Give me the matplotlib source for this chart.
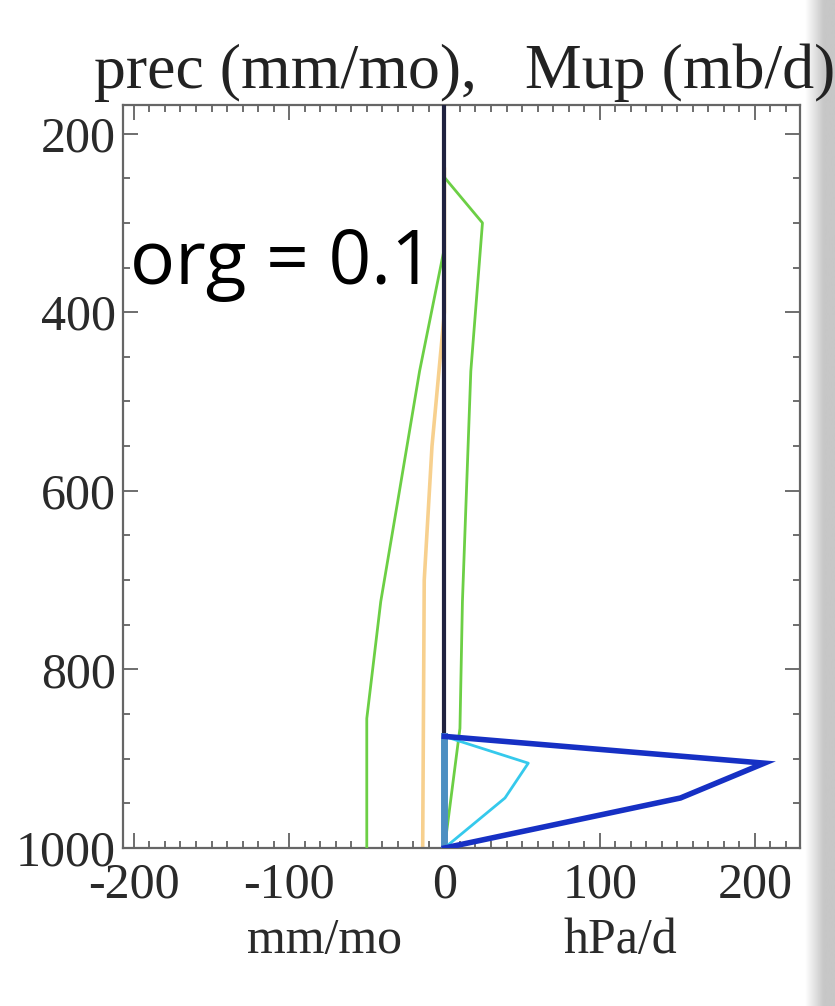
import numpy as np
import matplotlib
matplotlib.use("Agg")
import matplotlib.pyplot as plt
from matplotlib.ticker import MultipleLocator

# --- profiles (x value, pressure in hPa) ---
navy_x = [0, 0]
navy_p = [168, 875]

mup_p = [875, 905, 944, 1000]
mup_total = [0, 206, 152, 0]
mup_org = [0, 54, 39, 0]

base_x = [0, 0]
base_p = [875, 1000]

green_pos_x = [0, 24.5, 17, 11.6, 10, 0.6, 0]
green_pos_p = [249, 300, 466, 724, 866, 993, 1000]

green_neg_x = [0, -16, -30, -41, -50, -50]
green_neg_p = [328, 466, 611, 724, 855, 1000]

prec_x = [0, 0, -8, -13, -14]
prec_p = [240, 400, 550, 700, 1000]

xticks = [-200, -100, 0, 100, 200]
yticks = [200, 400, 600, 800, 1000]

W, H = 835, 1006
fig = plt.figure(figsize=(W / 100, H / 100), dpi=100)
fig.patch.set_facecolor("white")

ax = fig.add_axes([123 / W, 1 - 848 / H, (800 - 123) / W, (848 - 105) / H])
ax.set_xlim(-207, 229)
ax.set_ylim(1000, 168)

ax.plot(prec_x, prec_p, color="#f7d08e", lw=2.6, zorder=2)
ax.plot(green_neg_x, green_neg_p, color="#6ccf45", lw=2.0, zorder=3)
ax.plot(green_pos_x, green_pos_p, color="#6ccf45", lw=2.0, zorder=3)
ax.plot(navy_x, navy_p, color="#20223f", lw=3.0, zorder=4)
ax.plot(base_x, base_p, color="#4d8fc2", lw=5.0, zorder=4)
ax.plot(mup_org, mup_p, color="#35c9ec", lw=2.0, zorder=5)
ax.plot(mup_total, mup_p, color="#1630c4", lw=4.0, zorder=6,
        solid_joinstyle="miter")

serif = ["Liberation Serif", "DejaVu Serif"]
ax.set_xticks(xticks)
ax.set_yticks(yticks)
ax.set_xticklabels([str(v) for v in xticks],
                   family=serif, fontsize=36, color="#2a2a2a")
ax.set_yticklabels([str(v) for v in yticks],
                   family=serif, fontsize=36, color="#2a2a2a")
ax.xaxis.set_minor_locator(MultipleLocator(10))
ax.yaxis.set_minor_locator(MultipleLocator(50))
ax.tick_params(which="both", direction="in", top=True, right=True,
               color="#555555", width=1.2)
ax.tick_params(which="major", length=11)
ax.tick_params(axis="x", which="major", pad=10)
ax.tick_params(axis="y", which="major", pad=5)
ax.tick_params(which="minor", length=5)
for s in ax.spines.values():
    s.set_color("#666666")
    s.set_linewidth(1.6)

fig.text(465 / W, 1 - 73 / H, "prec (mm/mo),   Mup (mb/d)", family=serif,
         fontsize=46, ha="center", va="center", color="#222222")
fig.text(325 / W, 1 - 941 / H, "mm/mo", family=serif, fontsize=36,
         ha="center", va="center", color="#2a2a2a")
fig.text(620 / W, 1 - 941 / H, "hPa/d", family=serif, fontsize=36,
         ha="center", va="center", color="#2a2a2a")
fig.text(130 / W, 1 - 265 / H, "org = 0.1", family=["Open Sans", "DejaVu Sans"],
         fontsize=54, ha="left", va="center", color="black")

# shaded page edge on the right
edge = fig.add_axes([805 / W, 0, 30 / W, 1])
grad = np.linspace(0, 1, 64)
shade = 1 - 0.22 * np.clip(grad * 1.6, 0, 1)
edge.imshow(np.tile(shade, (2, 1)), cmap="gray", vmin=0, vmax=1,
            aspect="auto", extent=[0, 1, 0, 1])
edge.axis("off")

fig.savefig("out.png", dpi=100)
